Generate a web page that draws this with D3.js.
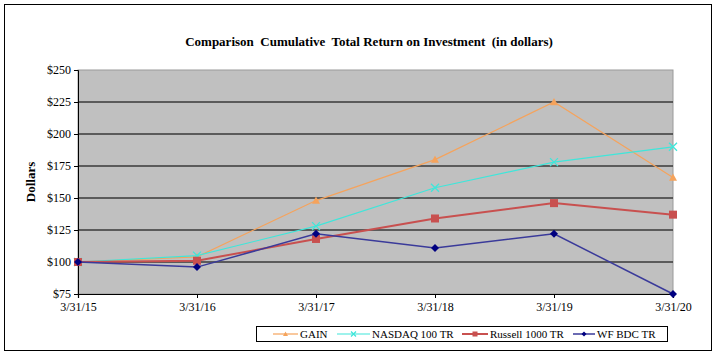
<!DOCTYPE html>
<html><head><meta charset="utf-8">
<script src="https://cdn.jsdelivr.net/npm/d3@7"></script>
<style>html,body{margin:0;padding:0;background:#fff;}svg{display:block;}</style>
</head><body>
<svg id="c" width="718" height="355"></svg>
<script>
const categories = ["3/31/15","3/31/16","3/31/17","3/31/18","3/31/19","3/31/20"];
const gain    = [100, 104, 148, 180, 225, 166];
const nasdaq  = [100, 105, 128, 158, 178, 190];
const russell = [100, 101, 118, 134, 146, 137];
const wfbdc   = [100, 96, 122, 111, 122, 75];
const yTicks  = [75, 100, 125, 150, 175, 200, 225, 250];
const seriesNames = ["GAIN", "NASDAQ 100 TR", "Russell 1000 TR", "WF BDC TR"];

const series = [
  {name: seriesNames[0], values: gain,    color: "#F5A35C", mcolor: "#F5A35C", width: 1.2, marker: "triangle", msize: 4},
  {name: seriesNames[1], values: nasdaq,  color: "#3FE6DA", mcolor: "#3FE6DA", width: 1.2, marker: "x", msize: 4},
  {name: seriesNames[2], values: russell, color: "#C8504F", mcolor: "#C8504F", width: 2,   marker: "square", msize: 4},
  {name: seriesNames[3], values: wfbdc,   color: "#3A3A9A", mcolor: "#000080", width: 1.5, marker: "diamond", msize: 4}
];

const FONT = "'Liberation Serif', 'Times New Roman', serif";
const svg = d3.select("#c");

svg.append("rect").attr("x", 4.5).attr("y", 4.5).attr("width", 707).attr("height", 346)
  .attr("fill", "#fff").attr("stroke", "#000").attr("stroke-width", 1);

const L = 78, R = 673, T = 70, B = 294;
const x = d3.scalePoint().domain(categories).range([L, R]);
const y = d3.scaleLinear().domain([75, 250]).range([B, T]);

svg.append("rect").attr("x", L).attr("y", T).attr("width", R - L).attr("height", B - T)
  .attr("fill", "#C0C0C0").attr("stroke", "#9a9a9a").attr("stroke-width", 1);

svg.append("g").selectAll("line").data(yTicks.filter(t => t > 75 && t < 250)).join("line")
  .attr("x1", L).attr("x2", R).attr("y1", d => y(d)).attr("y2", d => y(d))
  .attr("stroke", "#3a3a3a").attr("stroke-width", 1.5);

const yAxis = d3.axisLeft(y).tickValues(yTicks).tickFormat(d => "$" + d).tickSize(4).tickPadding(3);
const gy = svg.append("g").attr("transform", `translate(${L},0)`).call(yAxis);
gy.select(".domain").attr("stroke", "#000");
gy.selectAll("line").attr("stroke", "#000");
gy.selectAll("text").style("font-family", FONT).style("font-size", "12px").attr("fill", "#000");

const xAxis = d3.axisBottom(x).tickSize(4).tickPadding(4);
const gx = svg.append("g").attr("transform", `translate(0,${B})`).call(xAxis);
gx.select(".domain").attr("stroke", "#000").attr("stroke-width", 1.2);
gx.selectAll("line").attr("stroke", "#000");
gx.selectAll("text").style("font-family", FONT).style("font-size", "12px").attr("fill", "#000");

svg.append("text").attr("x", 369).attr("y", 46).attr("text-anchor", "middle")
  .style("font-family", FONT).style("font-weight", "bold").style("font-size", "13px")
  .style("white-space", "pre")
  .text("Comparison  Cumulative  Total Return on Investment  (in dollars)");

svg.append("text").attr("transform", "translate(35,182) rotate(-90)").attr("text-anchor", "middle")
  .style("font-family", FONT).style("font-weight", "bold").style("font-size", "13px").text("Dollars");

function drawMarker(g, type, cx, cy, s, color) {
  if (type === "triangle") {
    g.append("path").attr("d", `M${cx},${cy - s}L${cx + s},${cy + s * 0.8}L${cx - s},${cy + s * 0.8}Z`).attr("fill", color);
  } else if (type === "square") {
    g.append("rect").attr("x", cx - s).attr("y", cy - s).attr("width", 2 * s).attr("height", 2 * s).attr("fill", color);
  } else if (type === "diamond") {
    g.append("path").attr("d", `M${cx},${cy - s}L${cx + s},${cy}L${cx},${cy + s}L${cx - s},${cy}Z`).attr("fill", color);
  } else if (type === "x") {
    g.append("path").attr("d", `M${cx - s},${cy - s}L${cx + s},${cy + s}M${cx - s},${cy + s}L${cx + s},${cy - s}`)
      .attr("stroke", color).attr("stroke-width", 1.3).attr("fill", "none");
  }
}

const line = d3.line().x((d, i) => x(categories[i])).y(d => y(d));
series.forEach(s => {
  const g = svg.append("g");
  g.append("path").attr("d", line(s.values)).attr("fill", "none")
    .attr("stroke", s.color).attr("stroke-width", s.width);
  s.values.forEach((v, i) => drawMarker(g, s.marker, x(categories[i]), y(v), s.msize, s.mcolor));
});

svg.append("rect").attr("x", 256.5).attr("y", 326.5).attr("width", 411).attr("height", 15)
  .attr("fill", "#fff").attr("stroke", "#000").attr("stroke-width", 1);
const legendX = [273, 337, 462, 573];
const legendW = [25, 33, 26, 22];
series.forEach((s, i) => {
  const g = svg.append("g");
  const ly = 334;
  g.append("line").attr("x1", legendX[i]).attr("x2", legendX[i] + legendW[i]).attr("y1", ly).attr("y2", ly)
    .attr("stroke", s.color).attr("stroke-width", s.width);
  drawMarker(g, s.marker, legendX[i] + legendW[i] / 2, ly, 2.5, s.mcolor);
  g.append("text").attr("x", legendX[i] + legendW[i] + 2).attr("y", ly + 4)
    .style("font-family", FONT).style("font-size", "11px").text(s.name);
});
</script>
</body></html>
